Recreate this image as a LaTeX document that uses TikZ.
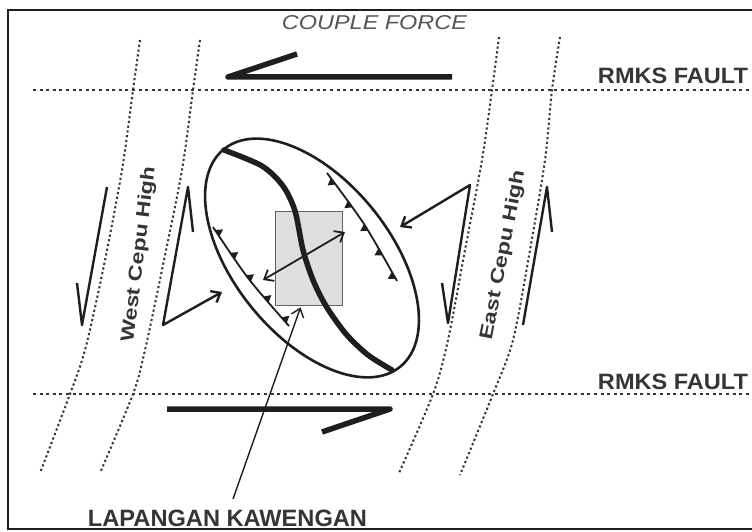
\documentclass[tikz,border=0pt]{standalone}
\usepackage{fontspec}
\usepackage{graphicx}
\setmainfont{Liberation Sans}
\usetikzlibrary{arrows.meta,decorations.markings}
\definecolor{ink}{HTML}{1E1E1E}
\tikzset{
  frame/.style={line width=2.6pt, draw=ink},
  fault/.style={line width=2.4pt, draw=ink!90, dash pattern=on 3pt off 3.6pt},
  rim/.style={line width=2pt, draw=ink!90, dash pattern=on 2.2pt off 2.6pt},
  force/.style={line width=5.5pt, draw=ink, line join=round, line cap=butt},
  slip/.style={line width=2.4pt, draw=ink, line join=round},
  barb/.tip={Straight Barb[length=8pt,width=13pt]},
  ptr/.style={slip, -barb},
  lbl/.style={inner sep=0pt, text=ink!90},
  toothup/.style={postaction={decorate}, decoration={markings,
    mark=at position 0.06 with {\fill[ink] (-4pt,0pt) -- (4pt,0pt) -- (0pt,7pt) -- cycle;},
    mark=at position 0.28 with {\fill[ink] (-4pt,0pt) -- (4pt,0pt) -- (0pt,7pt) -- cycle;},
    mark=at position 0.50 with {\fill[ink] (-4pt,0pt) -- (4pt,0pt) -- (0pt,7pt) -- cycle;},
    mark=at position 0.72 with {\fill[ink] (-4pt,0pt) -- (4pt,0pt) -- (0pt,7pt) -- cycle;},
    mark=at position 0.94 with {\fill[ink] (-4pt,0pt) -- (4pt,0pt) -- (0pt,7pt) -- cycle;}}},
  toothdown/.style={postaction={decorate}, decoration={markings,
    mark=at position 0.08 with {\fill[ink] (-4pt,0pt) -- (4pt,0pt) -- (0pt,-7pt) -- cycle;},
    mark=at position 0.30 with {\fill[ink] (-4pt,0pt) -- (4pt,0pt) -- (0pt,-7pt) -- cycle;},
    mark=at position 0.52 with {\fill[ink] (-4pt,0pt) -- (4pt,0pt) -- (0pt,-7pt) -- cycle;},
    mark=at position 0.74 with {\fill[ink] (-4pt,0pt) -- (4pt,0pt) -- (0pt,-7pt) -- cycle;},
    mark=at position 0.95 with {\fill[ink] (-4pt,0pt) -- (4pt,0pt) -- (0pt,-7pt) -- cycle;}}},
  thrust/.style={line width=1.8pt, draw=ink}
}
\begin{document}
\begin{tikzpicture}[x=1pt,y=-1pt]
\useasboundingbox (0,0) rectangle (752,532);
\fill[white] (0,0) rectangle (752,532);
% frame
\draw[frame] (752,10) -- (8,10) -- (8,529) -- (752,529);
% RMKS faults
\draw[fault] (33,90) -- (752,90);
\draw[fault] (33,394) -- (752,394);
% Cepu high boundaries
\draw[rim] plot[smooth] coordinates {(140,40) (133,90) (122,170) (103,270) (85,350) (70,394) (40,473)};
\draw[rim] plot[smooth] coordinates {(200,40) (193,90) (182,170) (163,265) (145,350) (133,394) (100,473)};
\draw[rim] plot[smooth] coordinates {(499,37) (492,90) (482,160) (465,250) (448,340) (433,394) (399,473)};
\draw[rim] plot[smooth] coordinates {(560,37) (552,90) (545,160) (530,250) (513,340) (493,394) (460,475)};
% couple forces
\coordinate (ftopA) at (452,77);
\coordinate (ftopB) at (228,77);
\coordinate (ftopC) at (297,54);
\draw[force] (ftopA) -- (ftopB) -- (ftopC);
\coordinate (fbotA) at (167,409);
\coordinate (fbotB) at (390,409);
\coordinate (fbotC) at (322,432);
\draw[force] (fbotA) -- (fbotB) -- (fbotC);
% field box
\node[draw=ink!70, fill=gray!25, line width=0.9pt, minimum width=67pt, minimum height=94pt, inner sep=0pt] (field) at (308.5,258) {};
% ellipse
\coordinate (ec) at (312,258);
\draw[line width=2.6pt, draw=ink, rotate around={-51:(ec)}] (ec) ellipse (140 and 78);
% axial trace
\draw[line width=5.5pt, draw=ink, line cap=round] plot[smooth] coordinates {(224,150) (262,166) (283,186) (295,211) (303,250) (313,280) (326,306) (346,334) (368,355) (392,370)};
% thrusts
\draw[thrust, toothup] plot[smooth] coordinates {(213,227) (248,278) (289,326)};
\draw[thrust, toothdown] plot[smooth] coordinates {(327,173) (364,224) (397,281)};
% compression double arrow
\coordinate (dA) at (263,280);
\coordinate (dB) at (345,232);
\draw[line width=1.8pt, draw=ink, barb-barb] (dA) -- (dB);
% strike-slip half arrows
\coordinate (w1a) at (77,283);
\coordinate (w1b) at (82,325);
\coordinate (w1c) at (107,187);
\draw[slip] (w1a) -- (w1b) -- (w1c);
\coordinate (w2a) at (193,232);
\coordinate (w2b) at (188,187);
\coordinate (w2c) at (163,325);
\coordinate (w2d) at (222,292);
\draw[ptr] (w2a) -- (w2b) -- (w2c) -- (w2d);
\coordinate (e1a) at (442,283);
\coordinate (e1b) at (448,323);
\coordinate (e1c) at (470,185);
\coordinate (e1d) at (400,227);
\draw[ptr] (e1a) -- (e1b) -- (e1c) -- (e1d);
\coordinate (e2a) at (552,232);
\coordinate (e2b) at (547,187);
\coordinate (e2c) at (523,325);
\draw[slip] (e2a) -- (e2b) -- (e2c);
% labels
\node[lbl, text=ink!75, font=\itshape] (couple) at (374.5,23) {\resizebox{185pt}{14pt}{COUPLE FORCE}};
\node[lbl] (rmks1) at (673,76) {\resizebox{150pt}{15.5pt}{\bfseries RMKS FAULT}};
\node[lbl] (rmks2) at (673,382) {\resizebox{150pt}{15.5pt}{\bfseries RMKS FAULT}};
\node[lbl] (lap) at (227.5,518.5) {\resizebox{279pt}{16.5pt}{\bfseries LAPANGAN KAWENGAN}};
\node[lbl, anchor=base, rotate=83] (west) at (144,255) {\resizebox{177pt}{13.5pt}{\bfseries West Cepu High}};
\node[lbl, anchor=base, rotate=79] (east) at (508,256) {\resizebox{172pt}{13.5pt}{\bfseries East Cepu High}};
% pointer to field
\coordinate (lapTail) at (233,499);
\draw[line width=1.4pt, draw=ink, -barb] (lapTail) -- ([xshift=-8pt,yshift=-2pt]field.south);
\end{tikzpicture}
\end{document}
